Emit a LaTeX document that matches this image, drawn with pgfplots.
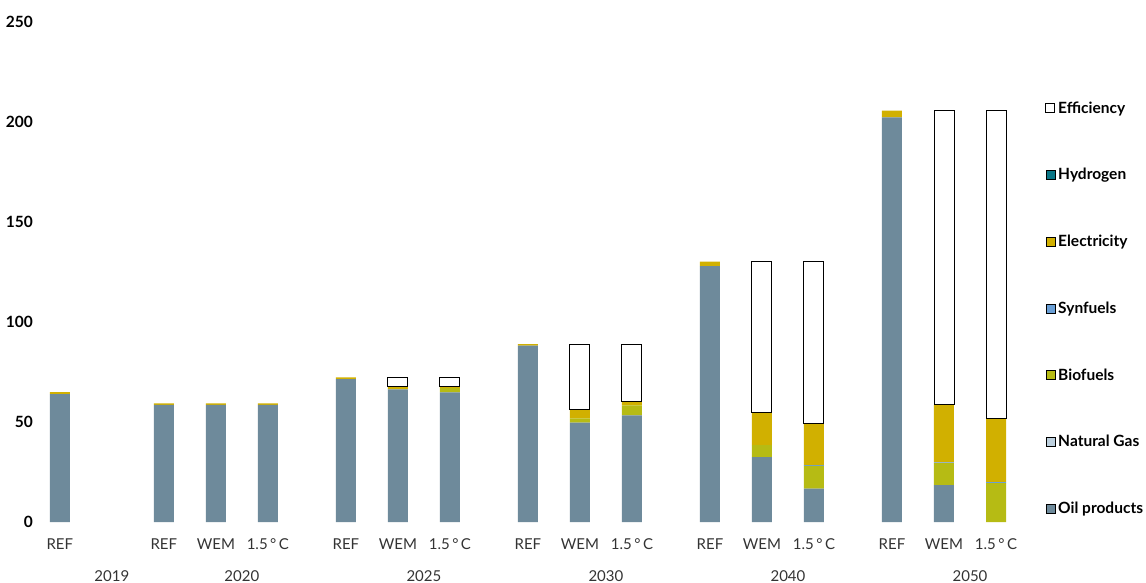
\documentclass[border=0pt]{standalone}
\usepackage{fontspec}
\setmainfont{Lato}
\usepackage{pgfplots}
\pgfplotsset{compat=1.18}
\definecolor{oilc}{HTML}{6E8A9B}
\definecolor{gasc}{HTML}{BDD0DE}
\definecolor{bioc}{HTML}{B6BB14}
\definecolor{sync}{HTML}{6A9FD6}
\definecolor{elecc}{HTML}{D1B000}
\definecolor{hydc}{HTML}{0A7686}
\definecolor{txt}{HTML}{333333}
\pgfplotsset{common/.style={
  at={(0,0)}, anchor=south west,
  scale only axis, width=984pt, height=500pt,
  xmin=-0.42, xmax=18.5, ymin=0, ymax=250,
  ybar stacked, bar width=20pt, bar shift=0pt,
  clip=false}}
\tikzset{grp/.style={font=\fontsize{15}{18}\selectfont, text=txt, anchor=base, yshift=-59pt}}
\begin{document}
\begin{tikzpicture}
\path[use as bounding box] (-38pt,-60pt) rectangle (1108pt,522pt);
\begin{axis}[common,
  axis line style={draw=none},
  major tick style={draw=none},
  ytick={0,50,100,150,200,250},
  yticklabel style={font=\bfseries\fontsize{15.5}{18}\selectfont, anchor=east, inner xsep=0pt, xshift=-5pt, text=black},
  xtick={0,2,3,4,5.5,6.5,7.5,9,10,11,12.5,13.5,14.5,16,17,18},
  xticklabels={REF,REF,WEM,1.5\,°\,C,REF,WEM,1.5\,°\,C,REF,WEM,1.5\,°\,C,REF,WEM,1.5\,°\,C,REF,WEM,1.5\,°\,C},
  xticklabel style={font=\fontsize{15}{18}\selectfont, text=txt, anchor=base, yshift=-27pt},
  major tick length=0pt,
  /pgf/number format/assume math mode=true,
  reverse legend,
  legend style={at={(axis description cs:1.0234,0.8946)}, anchor=north west, draw=none, fill=none, inner sep=0pt,
    font=\bfseries\fontsize{15.5}{18}\selectfont, cells={anchor=west},
    nodes={minimum height=66.7pt, inner xsep=3pt}},
  legend image code/.code={\draw[#1] (0.5pt,-4.5pt) rectangle (9.5pt,4.5pt);},
]
\addplot[fill=oilc, draw=none] coordinates {(0,64) (2,58.6) (3,58.6) (4,58.6) (5.5,71.5) (6.5,66.3) (7.5,64.8) (9,88.2) (10,49.7) (11,53.3) (12.5,128) (13.5,32.5) (14.5,16.7) (16,202.3) (17,18.5) (18,0)};
\addlegendentry{Oil products}
\addplot[fill=gasc, draw=none] coordinates {(0,0) (2,0) (3,0) (4,0) (5.5,0) (6.5,0) (7.5,0) (9,0) (10,0) (11,0) (12.5,0) (13.5,0) (14.5,0) (16,0) (17,0) (18,0)};
\addlegendentry{Natural Gas}
\addplot[fill=bioc, draw=none] coordinates {(0,0) (2,0) (3,0) (4,0) (5.5,0) (6.5,0.3) (7.5,2.2) (9,0) (10,2.1) (11,5.0) (12.5,0) (13.5,6.0) (14.5,11.4) (16,0) (17,11.0) (18,19.5)};
\addlegendentry{Biofuels}
\addplot[fill=sync, draw=none] coordinates {(0,0) (2,0) (3,0) (4,0) (5.5,0) (6.5,0) (7.5,0) (9,0) (10,0) (11,0) (12.5,0) (13.5,0) (14.5,0.3) (16,0) (17,0.3) (18,0.5)};
\addlegendentry{Synfuels}
\addplot[fill=elecc, draw=none] coordinates {(0,1.0) (2,0.7) (3,0.7) (4,0.7) (5.5,0.8) (6.5,1.1) (7.5,0.7) (9,0.8) (10,4.7) (11,2.0) (12.5,2.2) (13.5,16.5) (14.5,21.1) (16,3.4) (17,28.9) (18,31.8)};
\addlegendentry{Electricity}
\addplot[fill=hydc, draw=none] coordinates {(0,0) (2,0) (3,0) (4,0) (5.5,0) (6.5,0) (7.5,0) (9,0) (10,0) (11,0) (12.5,0) (13.5,0) (14.5,0) (16,0) (17,0) (18,0)};
\addlegendentry{Hydrogen}
\addlegendimage{fill=white, draw=black, line width=1pt}
\addlegendentry{Efficiency}
\node[grp] at (axis cs:1,0) {2019};
\node[grp] at (axis cs:3.5,0) {2020};
\node[grp] at (axis cs:7,0) {2025};
\node[grp] at (axis cs:10.5,0) {2030};
\node[grp] at (axis cs:14,0) {2040};
\node[grp] at (axis cs:17.5,0) {2050};
\end{axis}
\begin{axis}[common, axis lines=none, xtick=\empty, ytick=\empty]
\addplot[fill=none, draw=none] coordinates {(6.5,67.7) (7.5,67.7) (10,56.5) (11,60.3) (13.5,55) (14.5,49.5) (17,58.7) (18,51.8)};
\addplot[fill=white, draw=black, line width=1pt] coordinates {(6.5,4.6) (7.5,4.6) (10,32.5) (11,28.7) (13.5,75.2) (14.5,80.7) (17,147) (18,153.9)};
\end{axis}
\end{tikzpicture}
\end{document}
